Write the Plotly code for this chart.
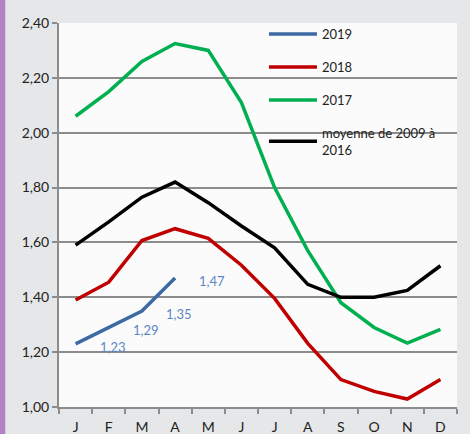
import plotly.graph_objects as go

months = ["J", "F", "M", "A", "M", "J", "J", "A", "S", "O", "N", "D"]
x_idx = list(range(12))

s2019 = [1.23, 1.29, 1.35, 1.47]
s2018 = [1.39, 1.455, 1.607, 1.65, 1.615, 1.517, 1.396, 1.232, 1.10, 1.057, 1.029, 1.10]
s2017 = [2.06, 2.15, 2.26, 2.325, 2.30, 2.11, 1.80, 1.57, 1.38, 1.29, 1.233, 1.283]
avg = [1.59, 1.675, 1.765, 1.82, 1.745, 1.66, 1.58, 1.447, 1.40, 1.40, 1.425, 1.515]
labels2019 = ["1,23", "1,29", "1,35", "1,47"]

y_ticks = [1.0, 1.2, 1.4, 1.6, 1.8, 2.0, 2.2, 2.4]
y_ticktext = ["1,00", "1,20", "1,40", "1,60", "1,80", "2,00", "2,20", "2,40"]

FONT = "Lato"

fig = go.Figure()
fig.add_trace(go.Scatter(x=x_idx[:4], y=s2019, mode="lines", name="2019",
                         line=dict(color="#3d6aa3", width=3.5), legendgroup="a"))
fig.add_trace(go.Scatter(x=x_idx, y=s2018, mode="lines", name="2018",
                         line=dict(color="#c00000", width=3.5), legendgroup="b"))
fig.add_trace(go.Scatter(x=x_idx, y=s2017, mode="lines", name="2017",
                         line=dict(color="#00b050", width=3.5), legendgroup="c"))
fig.add_trace(go.Scatter(x=x_idx, y=avg, mode="lines", name="moyenne de 2009 à<br>2016",
                         line=dict(color="#000000", width=3.5), legendgroup="d"))

for xi, yi, t in zip(x_idx[:4], s2019, labels2019):
    fig.add_annotation(x=xi, y=yi, text=t, showarrow=False, xshift=37, yshift=-3,
                       font=dict(family=FONT, size=13, color="#5b87c5"))

fig.update_layout(
    width=470, height=434,
    margin=dict(l=59, r=13, t=23, b=27, autoexpand=False),
    paper_bgcolor="#e6e7e8",
    plot_bgcolor="#fbfbfb",
    font=dict(family=FONT, size=14, color="#222222"),
    showlegend=True,
    legend=dict(x=0.515, y=1.01, xanchor="left", yanchor="top",
                bgcolor="rgba(0,0,0,0)", tracegroupgap=13,
                font=dict(family=FONT, size=13, color="#222222"),
                itemwidth=48),
    xaxis=dict(range=[-0.5, 11.5], tickvals=x_idx, ticktext=months,
               showgrid=False, zeroline=False, automargin=False,
               showline=True, linecolor="#8c8c8c", linewidth=2,
               ticks="outside", ticklen=6, tickcolor="rgba(0,0,0,0)",
               minor=dict(tick0=0.5, dtick=1, ticks="outside", ticklen=5,
                          tickcolor="#8c8c8c", tickwidth=2, showgrid=False),
               tickfont=dict(family=FONT, size=14, color="#222222")),
    yaxis=dict(range=[1.0, 2.4], tickvals=y_ticks, ticktext=y_ticktext,
               showgrid=True, gridcolor="#8c8c8c", gridwidth=1.5, zeroline=False,
               automargin=False,
               showline=True, linecolor="#8c8c8c", linewidth=2,
               ticks="outside", ticklen=5, tickcolor="#8c8c8c", tickwidth=1.5,
               tickfont=dict(family=FONT, size=14, color="#222222")),
)

# purple strip at the left edge
fig.add_shape(type="rect", xref="paper", yref="paper", layer="below",
              x0=-0.16, x1=-0.135, y0=-0.2, y1=1.2,
              fillcolor="#b482c4", line=dict(width=0))

fig.write_html("out.html", config={"displayModeBar": False},
               post_script="document.body.style.margin='0px';")
